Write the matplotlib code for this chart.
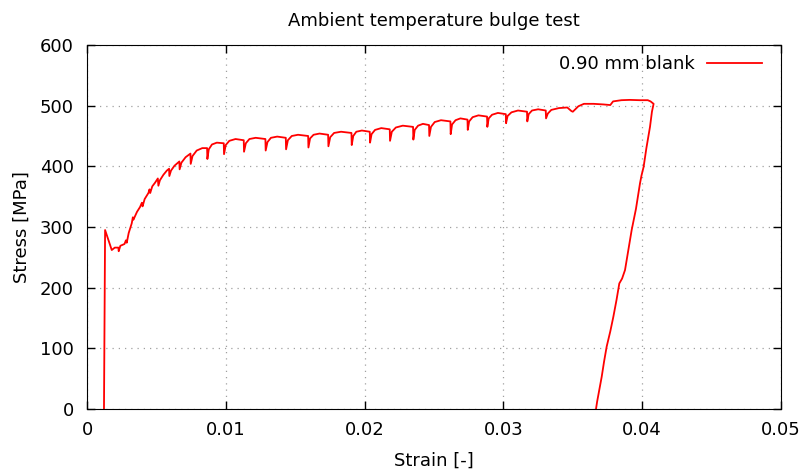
import matplotlib
matplotlib.use("Agg")
import matplotlib.pyplot as plt

# strain [-] and stress [MPa]
strain = [
    0.00122, 0.00130, 0.00178, 0.00200, 0.00226, 0.00228, 0.00240, 0.00270,
    0.00280, 0.00286, 0.00300, 0.00322, 0.00330, 0.00334, 0.00360, 0.00382,
    0.00395, 0.00400, 0.00415, 0.00442, 0.00450, 0.00455, 0.00470, 0.00490,
    0.00510, 0.00514, 0.00525, 0.00550, 0.00575, 0.00591, 0.00593, 0.00605,
    0.00630, 0.00665, 0.00667, 0.00680, 0.00710, 0.00745, 0.00747, 0.00760,
    0.00790, 0.00830, 0.00865, 0.00867,
    0.00877, 0.00900, 0.00935, 0.00985, 0.00987,
    0.00999, 0.01025, 0.01070, 0.01129, 0.01131,
    0.01144, 0.01170, 0.01215, 0.01285, 0.01287,
    0.01300, 0.01325, 0.01370, 0.01432, 0.01434,
    0.01447, 0.01475, 0.01520, 0.01593, 0.01595,
    0.01607, 0.01632, 0.01675, 0.01737, 0.01739,
    0.01752, 0.01780, 0.01830, 0.01905, 0.01907,
    0.01918, 0.01940, 0.01980, 0.02037, 0.02039,
    0.02050, 0.02075, 0.02120, 0.02181, 0.02183,
    0.02196, 0.02225, 0.02275, 0.02349, 0.02351,
    0.02361, 0.02385, 0.02420, 0.02464, 0.02466,
    0.02478, 0.02505, 0.02550, 0.02618, 0.02620,
    0.02630, 0.02655, 0.02690, 0.02741, 0.02743,
    0.02753, 0.02778, 0.02820, 0.02882, 0.02884,
    0.02894, 0.02918, 0.02960, 0.03017, 0.03019,
    0.03030, 0.03058, 0.03105, 0.03170, 0.03172,
    0.03182, 0.03206, 0.03250, 0.03305, 0.03307,
    0.03320, 0.03345, 0.03400, 0.03460, 0.03490, 0.03500, 0.03540, 0.03580,
    0.03650, 0.03720, 0.03770, 0.03790, 0.03850, 0.03910, 0.03980, 0.04040,
    0.04060, 0.04082,
    0.04070, 0.04056, 0.04030, 0.04010, 0.03995, 0.03984, 0.03955, 0.03924,
    0.03900, 0.03876, 0.03855, 0.03835, 0.03815, 0.03792, 0.03770, 0.03744,
    0.03725, 0.03708, 0.03690, 0.03675, 0.03667,
]
stress = [
    0, 295, 262, 266, 266, 260, 269, 272,
    278, 274, 290, 306, 316, 312, 325, 333,
    340, 334, 346, 356, 362, 356, 367, 373,
    380, 368, 377, 386, 393, 396, 384, 393,
    401, 408, 395, 406, 415, 421, 404, 417,
    426, 430, 430, 412,
    428, 436, 439, 438, 420,
    435, 442, 445, 443, 424,
    438, 445, 447, 445, 426,
    440, 447, 449, 447, 428,
    443, 450, 452, 450, 431,
    446, 452, 454, 452, 433,
    448, 455, 457, 455, 435,
    450, 457, 459, 457, 439,
    453, 460, 463, 461, 442,
    457, 464, 467, 465, 444,
    460, 467, 470, 468, 450,
    465, 473, 476, 474, 453,
    469, 476, 479, 477, 460,
    474, 481, 484, 482, 465,
    479, 485, 488, 486, 471,
    483, 489, 492, 490, 474,
    486, 492, 494, 492, 479,
    487, 493, 496, 497, 491, 490, 499, 503,
    503, 502, 501, 507, 509, 509.5, 509, 509,
    507, 503,
    490, 465, 430, 399, 385, 372, 330, 295,
    262, 229, 215, 207, 180, 152, 128, 103,
    78, 53, 31, 12, 0,
]

x_ticks = [0, 0.01, 0.02, 0.03, 0.04, 0.05]
x_tick_labels = ["0", "0.01", "0.02", "0.03", "0.04", "0.05"]
y_ticks = [0, 100, 200, 300, 400, 500, 600]

plt.rcParams.update({"font.size": 13, "font.family": "DejaVu Sans"})

fig = plt.figure(figsize=(8.06, 4.72), dpi=100)
ax = fig.add_axes([0.108, 0.1335, 0.861, 0.7712])

ax.plot(strain, stress, color="#ff0000", lw=1.3, label="0.90 mm blank")

ax.set_xlim(0, 0.05)
ax.set_ylim(0, 600)
ax.set_xticks(x_ticks)
ax.set_xticklabels(x_tick_labels)
ax.set_yticks(y_ticks)
ax.tick_params(direction="in", top=True, right=True, length=6, width=1)
ax.tick_params(axis="x", pad=9)
ax.tick_params(axis="y", pad=9.5)
ax.grid(True, color="#a0a0a0", linestyle=(0, (1, 4)), linewidth=0.9)

ax.set_title("Ambient temperature bulge test", fontsize=13, pad=14)
ax.set_xlabel("Strain [-]", labelpad=9)
ax.set_ylabel("Stress [MPa]", labelpad=6.5)

ax.legend(loc="upper right", bbox_to_anchor=(0.983, 0.991), frameon=False,
          markerfirst=False, handlelength=3.05, borderaxespad=0,
          borderpad=0.4, handletextpad=0.67)

fig.savefig("out.png", dpi=100)
